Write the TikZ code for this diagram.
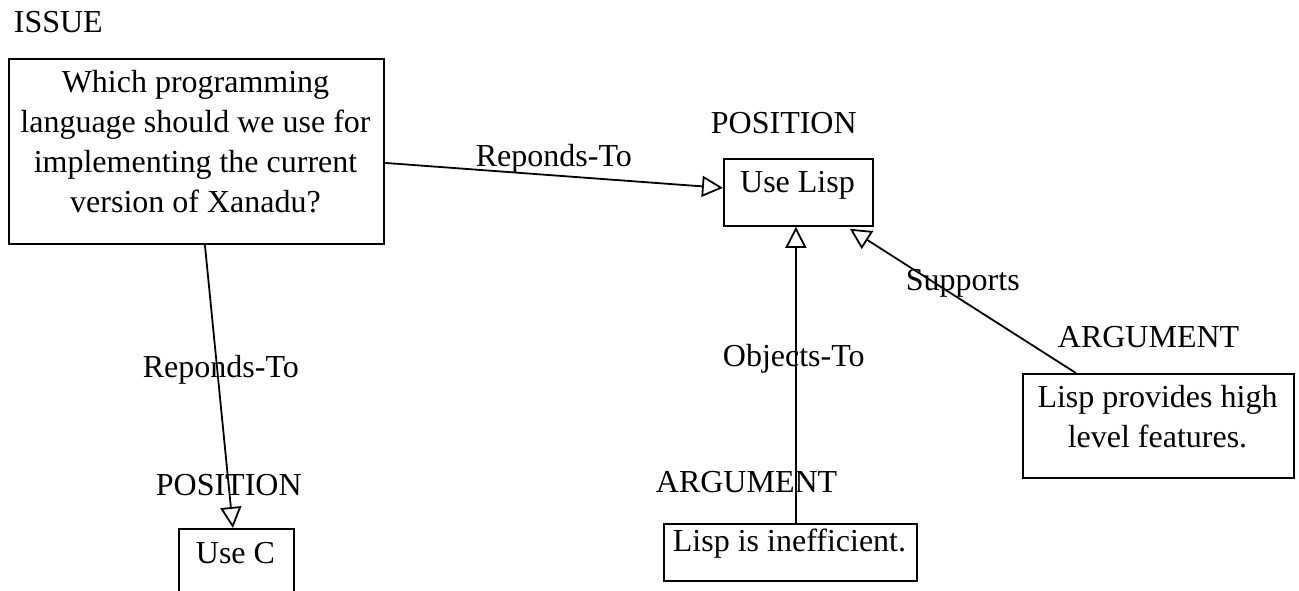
\documentclass[tikz,border=0pt]{standalone}
\usepackage{fontspec}
\setmainfont{Liberation Serif}
\usetikzlibrary{arrows.meta}
\newcommand\mylines[1]{\vtop{\baselineskip=40pt\lineskiplimit=-100pt\halign{\hfil##\hfil\cr#1\crcr}}}
\begin{document}
\begin{tikzpicture}[x=1pt,y=-1pt,line width=1.8pt,
  every node/.style={font=\fontsize{32pt}{40pt}\selectfont, inner sep=0pt},
  box/.style={draw, line width=1.8pt, anchor=north west},
  txt/.style={anchor=base},
  tag/.style={anchor=base west},
  link/.style={-{Triangle[open,length=21pt,width=21pt]}, line width=1.8pt}]
\useasboundingbox (0,0) rectangle (1299,590);
\clip (0,0) rectangle (1299,590);
% boxes
\node[box, minimum width=375pt, minimum height=185pt] (issue) at (8,58) {};
\node[box, minimum width=149pt, minimum height=67pt] (uselisp) at (723,158) {};
\node[box, minimum width=115pt, minimum height=72pt] (usec) at (178,528) {};
\node[box, minimum width=253pt, minimum height=57pt] (ineff) at (663,523) {};
\node[box, minimum width=271pt, minimum height=104pt] (feat) at (1022,373) {};
% box texts
\node[txt] (issuetext) at (195.5,92) {\mylines{Which programming\cr language should we use for\cr implementing the current\cr version of Xanadu?}};
\node[txt] (uselisptext) at (797.5,192) {Use Lisp};
\node[txt] (usectext) at (235.5,563) {Use C};
\node[txt] (inefftext) at (789.5,551) {Lisp is inefficient.};
\node[txt] (feattext) at (1157.5,407) {\mylines{Lisp provides high\cr level features.}};
% type tags
\node[tag] (tissue) at (13,32) {ISSUE};
\node[tag] (tpos1) at (710,133) {POSITION};
\node[tag] (tpos2) at (155,495) {POSITION};
\node[tag] (targ1) at (655,492) {ARGUMENT};
\node[tag] (targ2) at (1057,347) {ARGUMENT};
% connectors
\draw[link] ([yshift=-11.5pt]issue.east) -- ([yshift=4.5pt]uselisp.west);
\draw[link] ([xshift=8.5pt]issue.south) -- ([xshift=-3.5pt]usec.north);
\draw[link] ([xshift=5.5pt]ineff.north) -- ([xshift=-2.5pt]uselisp.south);
\draw[link] ([xshift=-82.5pt]feat.north) -- ([xshift=-24pt,yshift=-2pt]uselisp.south east);
% connector labels
\node[tag] (l1) at (475,166) {Reponds-To};
\node[tag] (l2) at (142,377) {Reponds-To};
\node[tag] (l3) at (722,366) {Objects-To};
\node[tag] (l4) at (905,290) {Supports};
\end{tikzpicture}
\end{document}
